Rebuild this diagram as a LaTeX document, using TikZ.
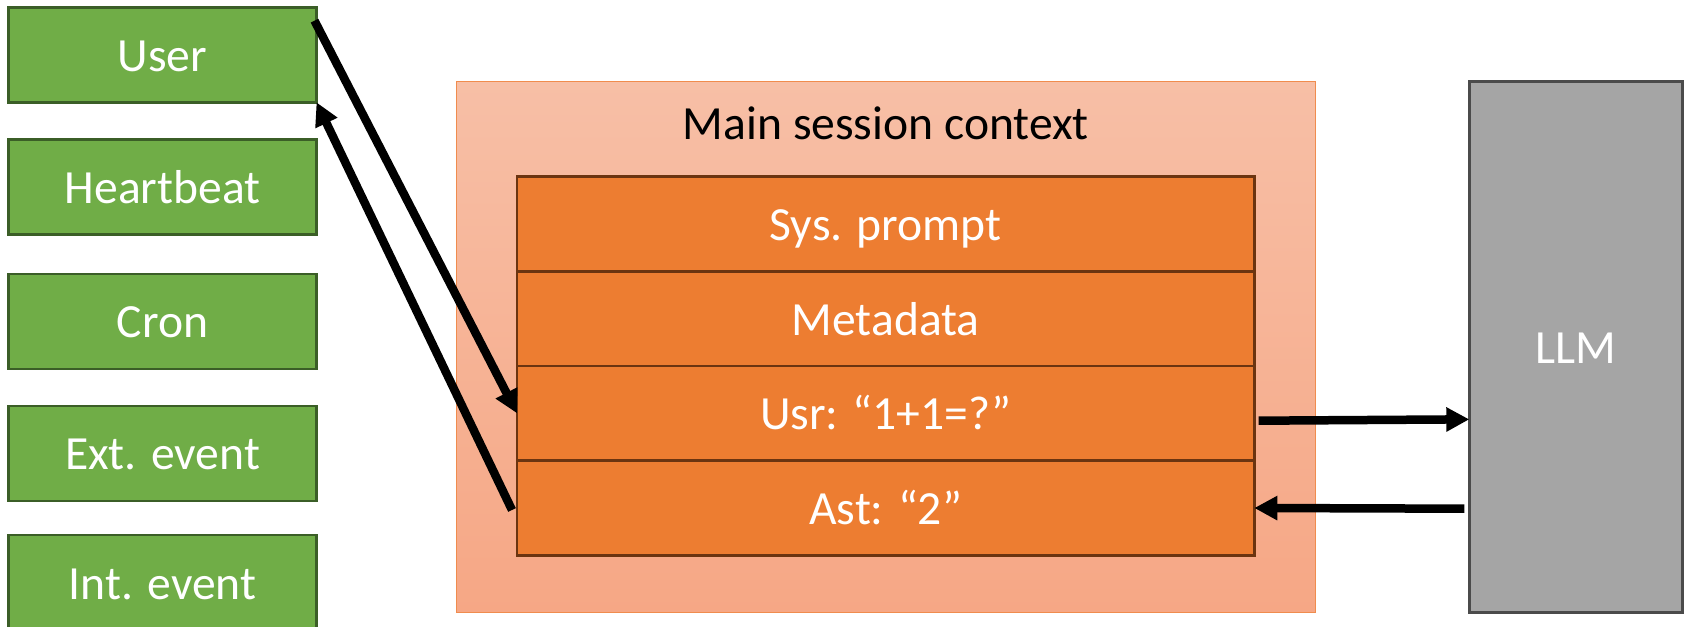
\documentclass[tikz,border=0pt]{standalone}
\usepackage{fontspec}
\setmainfont{Carlito}
\usetikzlibrary{arrows.meta}

\definecolor{srcgreen}{HTML}{70AD47}
\definecolor{srcgreenline}{HTML}{3B5E27}
\definecolor{blockorange}{HTML}{ED7D31}
\definecolor{blockline}{HTML}{6B3410}
\definecolor{ctxtop}{HTML}{F7BFA6}
\definecolor{ctxbottom}{HTML}{F6A785}
\definecolor{ctxline}{HTML}{F08C4E}
\definecolor{llmgray}{HTML}{A5A5A5}
\definecolor{llmline}{HTML}{4B4B4B}

\begin{document}
\begin{tikzpicture}[x=1pt,y=1pt,
  lbl/.style={font=\fontsize{47.6pt}{57pt}\selectfont, text height=40pt, text depth=7pt,
    inner sep=0pt, outer sep=0pt},
  source/.style={lbl, draw=srcgreenline, line width=2.5pt, fill=srcgreen, text=white,
    minimum width=308pt, minimum height=95pt},
  block/.style={lbl, draw=blockline, line width=2.5pt, fill=blockorange, text=white,
    minimum width=737.3pt, minimum height=94.65pt},
  context/.style={draw=ctxline, line width=1.5pt, top color=ctxtop, bottom color=ctxbottom,
    inner sep=0pt, outer sep=0pt, minimum width=858.8pt, minimum height=531pt},
  model/.style={lbl, draw=llmline, line width=3pt, fill=llmgray, text=white,
    minimum width=213pt, minimum height=531.3pt},
  flow/.style={line width=8.5pt, -{Triangle[length=23pt,width=23pt]}},
]
\useasboundingbox (0,0) rectangle (1688,626);
\clip (0,0) rectangle (1688,626);

% event sources
\node[source] (user)  at (162.5,571.2) {User};
\node[source] (heart) at (162.5,439.0) {Heartbeat};
\node[source] (cron)  at (162.5,304.5) {Cron};
\node[source] (ext)   at (162.5,172.5) {Ext. event};
\node[source] (int)   at (162.5,43.5)  {Int. event};

% session context with its stacked entries
\node[context] (ctx) at (885.9,278.8) {};
\node[lbl, anchor=base] (ctxtitle) at (885.9,486) {Main session context};
\node[block] (sys)  at (885.65,402.0) {Sys. prompt};
\node[block] (meta) at (885.65,307.3) {Metadata};
\node[block] (usr)  at (885.65,212.7) {Usr: “1+1=?”};
\node[block] (ast)  at (885.65,118.0) {Ast: “2”};

% model
\node[model] (llm) at (1575.8,278.65) {LLM};

% message flow
\draw[flow] ([shift={(-2,-13.4)}]user.north east) -- (usr.west);
\draw[flow] ([shift={(-5,-2)}]ast.west) -- (user.south east);
\draw[flow] ([shift={(4.4,-7.4)}]usr.east) -- ([yshift=-72]llm.west);
\draw[flow] ([shift={(-5,-161.35)}]llm.west) -- (ast.east);
\end{tikzpicture}
\end{document}
